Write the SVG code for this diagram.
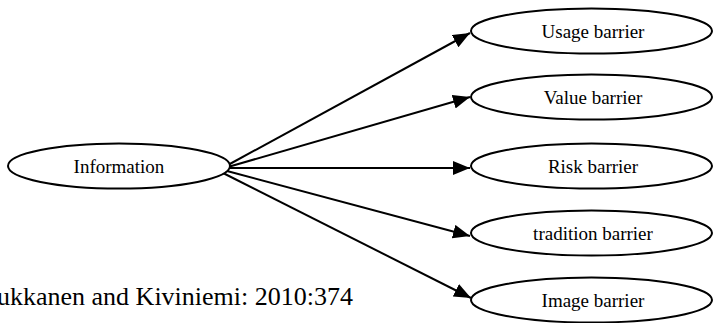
<svg xmlns="http://www.w3.org/2000/svg" width="713" height="323" viewBox="0 0 713 323">
<style>
.node ellipse{fill:#fff;stroke:#000;stroke-width:2}
.node text{font-family:"Liberation Serif","Times New Roman",serif;font-size:19px;fill:#000;text-anchor:middle}
.edge line{stroke:#000;stroke-width:2;marker-end:url(#arr)}
.note{font-family:"Liberation Serif","Times New Roman",serif;font-size:26px;fill:#000}
</style>
<defs>
<marker id="arr" markerUnits="userSpaceOnUse" markerWidth="18" markerHeight="14" refX="17" refY="7" orient="auto" viewBox="0 0 18 14">
<path d="M0,0 L17,7 L0,14 Z" fill="#000"/>
</marker>
</defs>
<rect width="713" height="323" fill="#fff"/>
<g id="edges" class="edge">
<line x1="228" y1="165" x2="470" y2="33"/>
<line x1="228" y1="167" x2="470" y2="97"/>
<line x1="228" y1="168" x2="470" y2="168"/>
<line x1="227" y1="171" x2="470" y2="236"/>
<line x1="223" y1="173" x2="471" y2="298"/>
</g>
<g id="information" class="node">
<ellipse cx="119" cy="166" rx="111" ry="22.5"/>
<text x="119" y="172.5">Information</text>
</g>
<g id="usage" class="node">
<ellipse cx="591.5" cy="31" rx="120.5" ry="22.5"/>
<text x="593" y="37.5">Usage barrier</text>
</g>
<g id="value" class="node">
<ellipse cx="591.5" cy="97" rx="120.5" ry="22.5"/>
<text x="593" y="103.5">Value barrier</text>
</g>
<g id="risk" class="node">
<ellipse cx="591.5" cy="166" rx="120.5" ry="22.5"/>
<text x="593" y="172.5">Risk barrier</text>
</g>
<g id="tradition" class="node">
<ellipse cx="591.5" cy="233" rx="120.5" ry="22.5"/>
<text x="593" y="239.5">tradition barrier</text>
</g>
<g id="image" class="node">
<ellipse cx="591.5" cy="300" rx="120.5" ry="22.5"/>
<text x="593" y="306.5">Image barrier</text>
</g>
<text class="note" x="353" y="305" text-anchor="end">ukkanen and Kiviniemi: 2010:374</text>
</svg>
